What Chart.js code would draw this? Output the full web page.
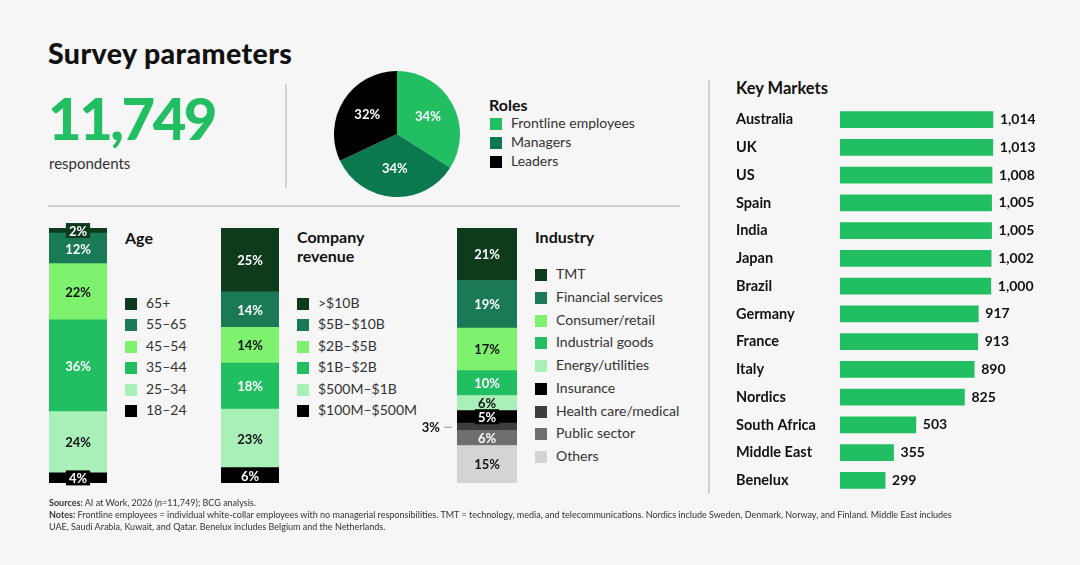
<!DOCTYPE html>
<html>
<head>
<meta charset="utf-8">
<script src="https://cdn.jsdelivr.net/npm/chart.js@4"></script>
<style>
  body { margin:0; background:#f6f6f6; font-family:Lato, "Noto Sans", sans-serif; color:#111; }
  #page { position:relative; width:1080px; height:565px; overflow:hidden; background:#f6f6f6; }
  .t { position:absolute; white-space:nowrap; line-height:1.2; }
  .b { font-weight:700; }
  .rule { position:absolute; background:#d2d2d2; }
  canvas { position:absolute; }
  .sw { position:absolute; width:12px; height:12px; }
  .lg { position:absolute; white-space:nowrap; font-size:14px; line-height:1.2; color:#333; }
  .foot { position:absolute; left:49px; top:497px; font-size:9px; line-height:12px; color:#333; white-space:nowrap; }
</style>
</head>
<body>
<div id="page">
  <div class="t" style="left:48px;top:36px;font-size:28.5px;font-weight:900;letter-spacing:0.4px;">Survey parameters</div>
  <div class="t" style="left:48px;top:83px;font-size:58px;font-weight:900;color:#21bf61;letter-spacing:-2.5px;">11,749</div>
  <div class="t" style="left:49px;top:154px;font-size:15px;color:#333;">respondents</div>
  <div class="rule" style="left:285px;top:84px;width:2px;height:104px;"></div>
  <div class="rule" style="left:48px;top:205px;width:632px;height:2px;"></div>
  <div class="rule" style="left:708px;top:80px;width:2px;height:414px;"></div>

  <canvas id="pie" width="126" height="126" style="left:334px;top:71px;"></canvas>
  <div class="t b" style="left:489px;top:95px;font-size:16px;">Roles</div>
  <div id="rolesLegend"></div>

  <canvas id="ageBar" width="98" height="275" style="left:9px;top:218px;"></canvas>
  <div class="t b" style="left:125px;top:228px;font-size:16px;">Age</div>
  <div id="ageLegend"></div>

  <canvas id="revBar" width="98" height="275" style="left:181px;top:218px;"></canvas>
  <div class="t b" style="left:297px;top:227px;font-size:16px;line-height:19px;">Company<br>revenue</div>
  <div id="revLegend"></div>

  <canvas id="indBar" width="100" height="275" style="left:417px;top:218px;"></canvas>
  <div class="t b" style="left:535px;top:227px;font-size:16px;">Industry</div>
  <div id="indLegend"></div>

  <div class="t b" style="left:736px;top:79px;font-size:16.5px;">Key Markets</div>
  <canvas id="markets" width="320" height="406" style="left:736px;top:97px;"></canvas>

  <div class="foot"><b>Sources:</b> AI at Work, 2026 (n=11,749); BCG analysis.<br><b>Notes:</b> Frontline employees = individual white-collar employees with no managerial responsibilities. TMT = technology, media, and telecommunications. Nordics include Sweden, Denmark, Norway, and Finland. Middle East includes<br>UAE, Saudi Arabia, Kuwait, and Qatar. Benelux includes Belgium and the Netherlands.</div>
</div>

<script>
// data
const roleLabels = ['Frontline employees', 'Managers', 'Leaders']
const roleValues = [34, 34, 32]

const ageLabels = ['65+', '55–65', '45–54', '35–44', '25–34', '18–24']
const ageValues = [2, 12, 22, 36, 24, 4]

const revenueLabels = ['>$10B', '$5B–$10B', '$2B–$5B', '$1B–$2B', '$500M–$1B', '$100M–$500M']
const revenueValues = [25, 14, 14, 18, 23, 6]

const industryLabels = ['TMT', 'Financial services', 'Consumer/retail', 'Industrial goods', 'Energy/utilities',
  'Insurance', 'Health care/medical', 'Public sector', 'Others']
const industryValues = [21, 19, 17, 10, 6, 5, 3, 6, 15]

const marketLabels = ['Australia', 'UK', 'US', 'Spain', 'India', 'Japan', 'Brazil', 'Germany', 'France',
  'Italy', 'Nordics', 'South Africa', 'Middle East', 'Benelux']
const marketValues = [1014, 1013, 1008, 1005, 1005, 1002, 1000, 917, 913, 890, 825, 503, 355, 299]

// colours
const roleColors = ['#21bf61', '#0a7a4e', '#000000']
const sixColors = ['#0d3b1c', '#1a7a55', '#7ef26f', '#21bf61', '#a8f0b8', '#000000']
const industryColors = ['#0d3b1c', '#1a7a55', '#7ef26f', '#21bf61', '#a8f0b8', '#000000', '#3d3d3d', '#6e6e6e', '#d4d4d4']

const FONT = 'Lato, "Noto Sans", sans-serif'

function isLight(hex) {
  const r = parseInt(hex.slice(1, 3), 16), g = parseInt(hex.slice(3, 5), 16), b = parseInt(hex.slice(5, 7), 16)
  return 0.299 * r + 0.587 * g + 0.114 * b > 160
}

function legend(id, left, firstY, step, labels, colors) {
  const box = document.getElementById(id)
  labels.forEach((l, i) => {
    const cy = firstY + step * i
    const sw = document.createElement('div')
    sw.className = 'sw'
    sw.style.left = left + 'px'
    sw.style.top = (cy - 6) + 'px'
    sw.style.background = colors[i]
    box.appendChild(sw)
    const tx = document.createElement('div')
    tx.className = 'lg'
    tx.style.left = (left + 21) + 'px'
    tx.style.top = (cy - 9) + 'px'
    tx.textContent = l
    box.appendChild(tx)
  })
}

legend('rolesLegend', 490, 124, 19, roleLabels, roleColors)
legend('ageLegend', 125, 304, 21.4, ageLabels, sixColors)
legend('revLegend', 297, 304, 21.4, revenueLabels, sixColors)
legend('indLegend', 535, 275, 22.75, industryLabels, industryColors)

// percent labels inside the stacked segments
const segLabels = {
  id: 'segLabels',
  afterDatasetsDraw(chart, args, opts) {
    const ctx = chart.ctx
    const outside = opts.outside || []
    ctx.save()
    ctx.font = 'bold 13px ' + FONT
    ctx.textBaseline = 'middle'
    chart.data.datasets.forEach((ds, i) => {
      const el = chart.getDatasetMeta(i).data[0]
      const top = Math.min(el.y, el.base), bot = Math.max(el.y, el.base)
      const cy = (top + bot) / 2, h = bot - top
      const txt = ds.data[0] + '%'
      const col = ds.backgroundColor
      if (outside.includes(ds.label)) {
        const left = el.x - el.width / 2
        ctx.fillStyle = '#111'
        ctx.textAlign = 'right'
        ctx.fillText(txt, left - 17, cy + 1)
        ctx.strokeStyle = '#999'
        ctx.lineWidth = 1
        ctx.beginPath()
        ctx.moveTo(left - 13, cy + 0.5)
        ctx.lineTo(left - 5, cy + 0.5)
        ctx.stroke()
        return
      }
      if (h < 14) {
        const w = ctx.measureText(txt).width + 6
        ctx.fillStyle = col
        ctx.fillRect(el.x - w / 2, cy - 7.5, w, 15)
      }
      ctx.fillStyle = isLight(col) ? '#111' : '#fff'
      ctx.textAlign = 'center'
      ctx.fillText(txt, el.x, cy + 1)
    })
    ctx.restore()
  }
}

function stackBar(id, labels, values, colors, max, outside) {
  const datasets = labels.map((l, i) => ({
    label: l, data: [values[i]], backgroundColor: colors[i], borderWidth: 0
  })).reverse()
  new Chart(document.getElementById(id), {
    type: 'bar',
    data: { labels: [''], datasets: datasets },
    options: {
      responsive: false,
      animation: false,
      layout: { padding: { left: 40, top: 10, bottom: 10, right: 0 } },
      datasets: { bar: { categoryPercentage: 1, barPercentage: 1 } },
      plugins: { legend: { display: false }, tooltip: { enabled: false }, segLabels: { outside: outside } },
      scales: {
        x: { stacked: true, display: false },
        y: { stacked: true, display: false, min: 0, max: max }
      }
    },
    plugins: [segLabels]
  })
}

stackBar('ageBar', ageLabels, ageValues, sixColors, 100, [])
stackBar('revBar', revenueLabels, revenueValues, sixColors, 100, [])
stackBar('indBar', industryLabels, industryValues, industryColors, 102, ['Health care/medical'])

// pie
const pieLabels = {
  id: 'pieLabels',
  afterDatasetsDraw(chart) {
    const ctx = chart.ctx
    ctx.save()
    ctx.font = 'bold 13px ' + FONT
    ctx.fillStyle = '#fff'
    ctx.textAlign = 'center'
    ctx.textBaseline = 'middle'
    chart.getDatasetMeta(0).data.forEach((arc, i) => {
      const a = (arc.startAngle + arc.endAngle) / 2
      const r = arc.outerRadius * 0.56
      ctx.fillText(chart.data.datasets[0].data[i] + '%', arc.x + Math.cos(a) * r, arc.y + Math.sin(a) * r)
    })
    ctx.restore()
  }
}

new Chart(document.getElementById('pie'), {
  type: 'pie',
  data: { labels: roleLabels, datasets: [{ data: roleValues, backgroundColor: roleColors, borderWidth: 0 }] },
  options: {
    responsive: false,
    animation: false,
    plugins: { legend: { display: false }, tooltip: { enabled: false } }
  },
  plugins: [pieLabels]
})

// key markets
const valueLabels = {
  id: 'valueLabels',
  afterDatasetsDraw(chart) {
    const ctx = chart.ctx
    ctx.save()
    ctx.font = 'bold 14px ' + FONT
    ctx.fillStyle = '#111'
    ctx.textAlign = 'left'
    ctx.textBaseline = 'middle'
    chart.getDatasetMeta(0).data.forEach((bar, i) => {
      ctx.fillText(marketValues[i].toLocaleString('en-US'), bar.x + 7, bar.y)
    })
    ctx.restore()
  }
}

new Chart(document.getElementById('markets'), {
  type: 'bar',
  data: { labels: marketLabels, datasets: [{ data: marketValues, backgroundColor: '#21bf61', barThickness: 16 }] },
  options: {
    indexAxis: 'y',
    responsive: false,
    animation: false,
    layout: { padding: { left: 0, right: 35, top: 0, bottom: 0 } },
    plugins: { legend: { display: false }, tooltip: { enabled: false } },
    scales: {
      x: { display: false, min: 0, max: 1200 },
      y: {
        grid: { display: false },
        border: { display: false },
        ticks: { color: '#111', crossAlign: 'far', padding: 0, font: { family: FONT, size: 14.5, weight: 'bold' } },
        afterFit(scale) { scale.width = 104 }
      }
    }
  },
  plugins: [valueLabels]
})
</script>
</body>
</html>
